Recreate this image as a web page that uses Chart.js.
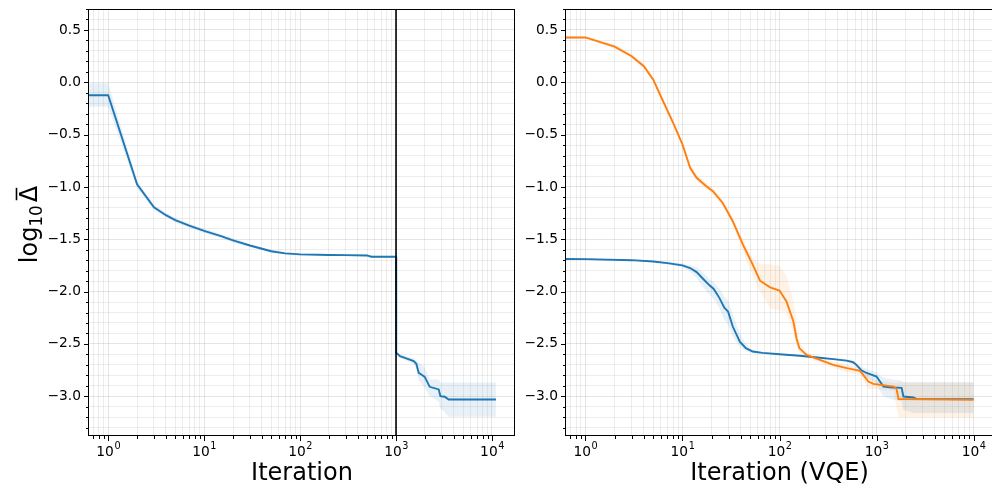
<!DOCTYPE html>
<html>
<head>
<meta charset="utf-8">
<script src="https://cdn.jsdelivr.net/npm/chart.js@4.4.1/dist/chart.umd.min.js"></script>
<style>
  html, body { margin: 0; padding: 0; background: #fff; overflow: hidden; }
  canvas { position: absolute; top: 0; }
  #left { left: 0; }
  #right { left: 520px; }
</style>
</head>
<body>
<canvas id="left" width="520" height="491"></canvas>
<canvas id="right" width="473" height="491"></canvas>
<script>
// ---- data ----
// left panel: full run, switch at iteration 1000
const iterLeft = [0.5, 1, 2, 3, 4, 5, 7, 10, 15, 20, 30, 50, 70, 100, 200, 300, 500, 550, 1000,
  1005, 1100, 1300, 1527, 1629, 1722, 1850, 1990, 2244, 2787, 2900, 3215, 3540, 11000];
const meanLeft = [-0.124, -0.124, -0.975, -1.195, -1.27, -1.317, -1.37, -1.42, -1.47, -1.51, -1.56, -1.615, -1.635, -1.645, -1.65, -1.652, -1.655, -1.667, -1.667,
  -2.585, -2.617, -2.64, -2.665, -2.69, -2.776, -2.795, -2.815, -2.91, -2.935, -2.999, -3.005, -3.031, -3.031];
const lowLeft = [-0.235, -0.235, -1.01, -1.22, -1.29, -1.337, -1.39, -1.44, -1.49, -1.53, -1.575, -1.63, -1.645, -1.655, -1.66, -1.662, -1.665, -1.677, -1.677,
  -2.595, -2.635, -2.66, -2.69, -2.74, -2.85, -2.88, -2.92, -3.0, -3.05, -3.12, -3.15, -3.197, -3.197];
const highLeft = [-0.01, -0.01, -0.94, -1.17, -1.25, -1.297, -1.35, -1.40, -1.45, -1.49, -1.545, -1.60, -1.625, -1.635, -1.64, -1.642, -1.645, -1.657, -1.657,
  -2.575, -2.60, -2.62, -2.64, -2.66, -2.68, -2.70, -2.72, -2.84, -2.84, -2.868, -2.868, -2.868, -2.868];
const switchIteration = 1000;

// right panel: VQE iterations, blue run
const iterBlue = [0.5, 1, 3, 5, 7, 10, 12, 14, 16, 19, 21, 24, 27, 29.5, 33, 39, 45, 53, 67, 100, 161, 261, 358, 492,
  573, 620, 703, 790, 1000, 1085, 1179, 1437, 1813, 1891, 2393, 2596, 10000];
const meanBlue = [-1.688, -1.69, -1.70, -1.712, -1.728, -1.75, -1.775, -1.814, -1.87, -1.94, -1.975, -2.06, -2.155, -2.19, -2.334, -2.478, -2.541, -2.573, -2.586, -2.599, -2.613, -2.632, -2.645, -2.66,
  -2.675, -2.70, -2.755, -2.778, -2.812, -2.86, -2.908, -2.917, -2.92, -3.003, -3.012, -3.028, -3.028];
const lowBlue = [-1.693, -1.695, -1.705, -1.72, -1.74, -1.77, -1.81, -1.87, -1.95, -2.03, -2.07, -2.16, -2.27, -2.32, -2.43, -2.53, -2.57, -2.59, -2.595, -2.605, -2.62, -2.64, -2.655, -2.67,
  -2.69, -2.72, -2.78, -2.82, -2.87, -2.95, -3.0, -3.03, -3.05, -3.13, -3.16, -3.16, -3.16];
const highBlue = [-1.683, -1.685, -1.695, -1.705, -1.715, -1.73, -1.75, -1.77, -1.81, -1.88, -1.91, -1.97, -2.05, -2.08, -2.22, -2.40, -2.50, -2.56, -2.58, -2.593, -2.606, -2.625, -2.637, -2.65,
  -2.66, -2.68, -2.72, -2.74, -2.77, -2.80, -2.82, -2.84, -2.85, -2.866, -2.866, -2.866, -2.866];

// right panel: orange run
const iterOrange = [0.5, 1, 2, 3, 4, 5, 6.3, 8, 10, 12, 14, 17.6, 20.6, 26, 33, 42, 53, 63, 80, 100, 118, 139, 150, 160, 190,
  261, 358, 494, 677, 823, 928, 1502, 1606, 1683, 10000];
const meanOrange = [0.428, 0.428, 0.34, 0.249, 0.153, 0.025, -0.179, -0.386, -0.594, -0.817, -0.913, -0.993, -1.041, -1.153, -1.328, -1.552, -1.743, -1.896, -1.96, -1.99, -2.094, -2.285, -2.45, -2.54, -2.605,
  -2.653, -2.70, -2.732, -2.757, -2.86, -2.882, -2.908, -2.93, -3.026, -3.035];
const lowOrange = [0.415, 0.415, 0.32, 0.229, 0.133, 0.005, -0.199, -0.406, -0.614, -0.847, -0.943, -1.023, -1.071, -1.183, -1.358, -1.62, -1.85, -2.0, -2.16, -2.18, -2.20, -2.40, -2.52, -2.58, -2.63,
  -2.68, -2.73, -2.77, -2.80, -2.93, -2.93, -2.95, -3.1, -3.2, -3.2];
const highOrange = [0.44, 0.44, 0.36, 0.269, 0.173, 0.045, -0.159, -0.366, -0.574, -0.787, -0.883, -0.963, -1.011, -1.123, -1.298, -1.50, -1.68, -1.74, -1.74, -1.75, -1.85, -2.08, -2.30, -2.49, -2.58,
  -2.63, -2.67, -2.70, -2.72, -2.80, -2.84, -2.87, -2.87, -2.866, -2.866];

// axis ticks and labels
const xTickValues = [1, 10, 100, 1000, 10000];
const xTickExponents = ['0', '1', '2', '3', '4']; // drawn as 10^n
const yTickValues = [-3.0, -2.5, -2.0, -1.5, -1.0, -0.5, 0.0, 0.5];
const yTickLabels = ['\u22123.0', '\u22122.5', '\u22122.0', '\u22121.5', '\u22121.0', '\u22120.5', '0.0', '0.5'];
const yLabelParts = ['log', '10', '\u0394']; // log_10 Delta-bar

const BLUE = '#1f77b4';
const ORANGE = '#ff7f0e';
const FONT = 'DejaVu Sans';
const GRID_MAJOR = 'rgba(0,0,0,0.10)';
const GRID_MINOR = 'rgba(0,0,0,0.07)';

Chart.defaults.font.family = FONT;
Chart.defaults.color = '#000';

const toPts = (xs, ys) => xs.map((x, i) => ({ x, y: ys[i] }));

function logTicks(min, max) {
  const ticks = [];
  for (let d = -1; d <= 5; d++) {
    for (let m = 1; m <= 9; m++) {
      const v = m * Math.pow(10, d);
      if (v >= min && v <= max) ticks.push({ value: v, major: m === 1 });
    }
  }
  return ticks;
}

function linTicks(min, max) {
  const ticks = [];
  for (let k = Math.ceil(min * 10); k <= Math.floor(max * 10); k++) {
    ticks.push({ value: k / 10, major: k % 5 === 0 });
  }
  return ticks;
}

function band(xs, lo, hi, color) {
  return [
    { data: toPts(xs, hi), borderWidth: 0, borderColor: 'transparent', pointRadius: 0, fill: '+1', backgroundColor: color, order: 10 },
    { data: toPts(xs, lo), borderWidth: 0, borderColor: 'transparent', pointRadius: 0, fill: false, order: 10 },
  ];
}

function line(xs, ys, color, order) {
  return { data: toPts(xs, ys), borderColor: color, borderWidth: 1.9, pointRadius: 0, fill: false, order };
}

// frame, tick marks, 10^n labels, the vertical marker and the math y label
const axesDecor = {
  id: 'axesDecor',
  afterDatasetsDraw(chart, args, opts) {
    const { ctx, chartArea: a, scales: { x, y } } = chart;
    ctx.save();
    if (opts.vline) {
      const px = x.getPixelForValue(opts.vline);
      ctx.strokeStyle = '#000';
      ctx.lineWidth = 1.6;
      ctx.beginPath();
      ctx.moveTo(px, a.top);
      ctx.lineTo(px, a.bottom);
      ctx.stroke();
    }
    ctx.strokeStyle = '#000';
    ctx.lineWidth = 1;
    x.ticks.forEach(t => {
      const px = Math.round(x.getPixelForValue(t.value)) + 0.5;
      ctx.beginPath();
      ctx.moveTo(px, a.bottom);
      ctx.lineTo(px, a.bottom + (t.major ? 5 : 3));
      ctx.stroke();
    });
    y.ticks.forEach(t => {
      const py = Math.round(y.getPixelForValue(t.value)) + 0.5;
      ctx.beginPath();
      ctx.moveTo(a.left, py);
      ctx.lineTo(a.left - (t.major ? 5 : 3), py);
      ctx.stroke();
    });
    ctx.strokeRect(Math.round(a.left) - 0.5, Math.round(a.top) + 0.5,
      Math.round(a.right - a.left), Math.round(a.bottom - a.top) - 1);

    // x tick labels as 10 with a raised exponent
    ctx.fillStyle = '#000';
    ctx.textAlign = 'left';
    ctx.textBaseline = 'alphabetic';
    xTickValues.forEach((v, i) => {
      const px = x.getPixelForValue(v);
      ctx.font = `13.8px "${FONT}"`;
      const wBase = ctx.measureText('10').width;
      ctx.font = `9.7px "${FONT}"`;
      const wExp = ctx.measureText(xTickExponents[i]).width;
      const start = px - (wBase + wExp) / 2;
      ctx.font = `13.8px "${FONT}"`;
      ctx.fillText('10', start, a.bottom + 19.5);
      ctx.font = `9.7px "${FONT}"`;
      ctx.fillText(xTickExponents[i], start + wBase + 0.5, a.bottom + 12.5);
    });

    if (opts.ylabel) {
      const [tLog, tSub, tDelta] = opts.ylabel;
      ctx.font = `24px "${FONT}"`;
      const wLog = ctx.measureText(tLog).width;
      const wDelta = ctx.measureText(tDelta).width;
      ctx.font = `16.8px "${FONT}"`;
      const wSub = ctx.measureText(tSub).width;
      const gap = 3;
      const total = wLog + wSub + gap + wDelta;
      ctx.translate(37, (a.top + a.bottom) / 2 + 2);
      ctx.rotate(-Math.PI / 2);
      let u = -total / 2;
      ctx.font = `24px "${FONT}"`;
      ctx.fillText(tLog, u, 0);
      u += wLog;
      ctx.font = `16.8px "${FONT}"`;
      ctx.fillText(tSub, u, 5);
      u += wSub + gap;
      ctx.font = `24px "${FONT}"`;
      ctx.fillText(tDelta, u, 0);
      ctx.lineWidth = 1.6;
      ctx.beginPath();
      ctx.moveTo(u + 2, -20.5);
      ctx.lineTo(u + wDelta - 2, -20.5);
      ctx.stroke();
    }
    ctx.restore();
  }
};

function makeChart(id, datasets, o) {
  return new Chart(document.getElementById(id), {
    type: 'line',
    data: { datasets },
    plugins: [axesDecor],
    options: {
      responsive: false,
      devicePixelRatio: 1,
      animation: false,
      events: [],
      layout: { padding: { top: 9, right: o.padRight, left: 0, bottom: 0 } },
      plugins: {
        legend: { display: false },
        tooltip: { enabled: false },
        filler: { drawTime: 'beforeDatasetsDraw' },
        axesDecor: { vline: o.vline, ylabel: o.yLabel },
      },
      scales: {
        x: {
          type: 'logarithmic',
          min: o.xMin,
          max: o.xMax,
          bounds: 'data',
          afterBuildTicks: s => { s.ticks = logTicks(s.min, s.max); },
          afterFit: s => { s.height = 55; s.paddingLeft = 0; s.paddingRight = 0; },
          ticks: { display: false, autoSkip: false, maxRotation: 0 },
          grid: {
            drawTicks: false,
            lineWidth: 1,
            color: c => (c.tick && c.tick.major ? GRID_MAJOR : GRID_MINOR),
          },
          border: { display: false },
          title: { display: true, text: o.xTitle, font: { size: 24 }, padding: { top: 0, bottom: 3 } },
        },
        y: {
          type: 'linear',
          min: -3.38,
          max: 0.70,
          afterBuildTicks: s => { s.ticks = linTicks(s.min, s.max); },
          afterFit: s => { s.width = o.yWidth; s.paddingTop = 0; s.paddingBottom = 0; },
          ticks: {
            autoSkip: false,
            padding: 8,
            font: { size: 13.8 },
            callback: v => {
              const i = yTickValues.findIndex(t => Math.abs(t - v) < 1e-6);
              return i >= 0 ? yTickLabels[i] : '';
            },
          },
          grid: {
            drawTicks: false,
            lineWidth: 1,
            color: c => (c.tick && c.tick.major ? GRID_MAJOR : GRID_MINOR),
          },
          border: { display: false },
          title: { display: false },
        },
      },
    },
  });
}

makeChart('left', [
  ...band(iterLeft, lowLeft, highLeft, 'rgba(31,119,180,0.1)'),
  line(iterLeft, meanLeft, BLUE, 1),
], {
  xMin: Math.pow(10, -0.2), xMax: Math.pow(10, 4.24), yWidth: 89, padRight: 5,
  xTitle: 'Iteration', yLabel: yLabelParts, vline: switchIteration,
});

makeChart('right', [
  ...band(iterBlue, lowBlue, highBlue, 'rgba(31,119,180,0.1)'),
  ...band(iterOrange, lowOrange, highOrange, 'rgba(255,127,14,0.1)'),
  line(iterBlue, meanBlue, BLUE, 2),
  line(iterOrange, meanOrange, ORANGE, 1),
], {
  xMin: Math.pow(10, -0.2), xMax: Math.pow(10, 4.2), yWidth: 46, padRight: 0,
  xTitle: 'Iteration (VQE)', yLabel: null, vline: null,
});
</script>
</body>
</html>
